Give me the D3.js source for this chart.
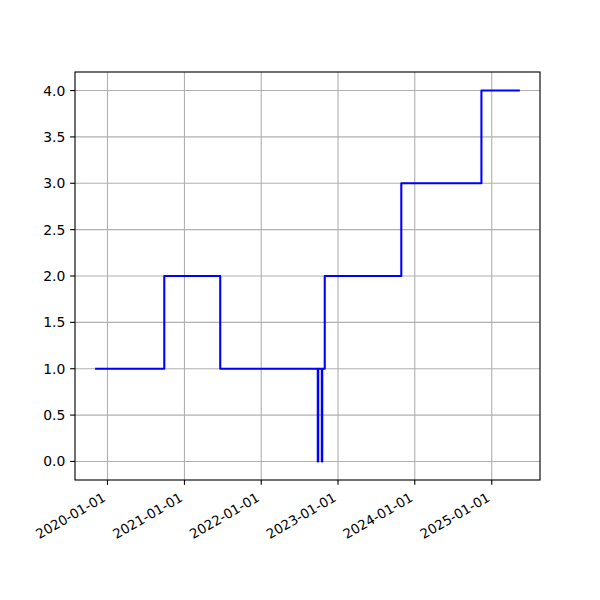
<!DOCTYPE html>
<html>
<head>
<meta charset="utf-8">
<script src="https://cdn.jsdelivr.net/npm/d3@7"></script>
<style>
  html, body { margin: 0; padding: 0; background: #fff; }
  text { font-family: "DejaVu Sans", sans-serif; font-size: 13.9px; fill: #000; }
</style>
</head>
<body>
<svg id="chart" width="600" height="600"></svg>
<script>
// Data (step-after series)
const dates = [
  "2019-11-08", "2020-09-27", "2021-06-20", "2022-09-27", "2022-09-29",
  "2022-10-16", "2022-10-18", "2022-10-30", "2023-10-29", "2024-11-13", "2025-05-10"
];
const values = [1, 2, 1, 0, 1, 0, 1, 2, 3, 4, 4];
const xTickLabels = ["2020-01-01", "2021-01-01", "2022-01-01", "2023-01-01", "2024-01-01", "2025-01-01"];
const yTickValues = [0, 0.5, 1, 1.5, 2, 2.5, 3, 3.5, 4];

const parse = d3.utcParse("%Y-%m-%d");
const data = dates.map((d, i) => ({ t: parse(d), v: values[i] }));

const m = { left: 75, right: 540, top: 72, bottom: 480 };

const tExt = d3.extent(data, d => d.t);
const span = tExt[1] - tExt[0];
const x = d3.scaleUtc()
  .domain([new Date(+tExt[0] - span * 0.05), new Date(+tExt[1] + span * 0.05)])
  .range([m.left, m.right]);
const vExt = d3.extent(values);
const vSpan = vExt[1] - vExt[0];
const y = d3.scaleLinear()
  .domain([vExt[0] - vSpan * 0.05, vExt[1] + vSpan * 0.05])
  .range([m.bottom, m.top]);

const svg = d3.select("#chart");
const tickLen = 4.86, pad = 4.86;
const xTicks = xTickLabels.map(parse);

// Grid
const g = svg.append("g");
g.selectAll(".gx").data(xTicks).enter().append("line")
  .attr("x1", d => x(d)).attr("x2", d => x(d))
  .attr("y1", m.top).attr("y2", m.bottom)
  .attr("stroke", "#b0b0b0").attr("stroke-width", 1.11);
g.selectAll(".gy").data(yTickValues).enter().append("line")
  .attr("x1", m.left).attr("x2", m.right)
  .attr("y1", d => y(d)).attr("y2", d => y(d))
  .attr("stroke", "#b0b0b0").attr("stroke-width", 1.11);

// Line
const line = d3.line().x(d => x(d.t)).y(d => y(d.v)).curve(d3.curveStepAfter);
svg.append("path").datum(data)
  .attr("d", line)
  .attr("fill", "none")
  .attr("stroke", "#0000ff")
  .attr("stroke-width", 2.08)
  .attr("stroke-linejoin", "round")
  .attr("stroke-linecap", "square");

// Spines
svg.append("rect")
  .attr("x", m.left).attr("y", m.top)
  .attr("width", m.right - m.left).attr("height", m.bottom - m.top)
  .attr("fill", "none").attr("stroke", "#000").attr("stroke-width", 1.11);

// X ticks
const fmt = d3.utcFormat("%Y-%m-%d");
const xt = svg.append("g");
xt.selectAll("line").data(xTicks).enter().append("line")
  .attr("x1", d => x(d)).attr("x2", d => x(d))
  .attr("y1", m.bottom).attr("y2", m.bottom + tickLen)
  .attr("stroke", "#000").attr("stroke-width", 1.11);
xt.selectAll("text").data(xTicks).enter().append("text")
  .attr("transform", d => `translate(${x(d) - 0.8},${m.bottom + tickLen + pad + 10.6}) rotate(-30)`)
  .attr("text-anchor", "end")
  .style("font-size", "13.4px")
  .text(d => fmt(d));

// Y ticks
const yt = svg.append("g");
yt.selectAll("line").data(yTickValues).enter().append("line")
  .attr("x1", m.left - tickLen).attr("x2", m.left)
  .attr("y1", d => y(d)).attr("y2", d => y(d))
  .attr("stroke", "#000").attr("stroke-width", 1.11);
yt.selectAll("text").data(yTickValues).enter().append("text")
  .attr("x", m.left - tickLen - pad)
  .attr("y", d => y(d))
  .attr("dy", "0.36em")
  .attr("text-anchor", "end")
  .text(d => d3.format(".1f")(d));
</script>
</body>
</html>
